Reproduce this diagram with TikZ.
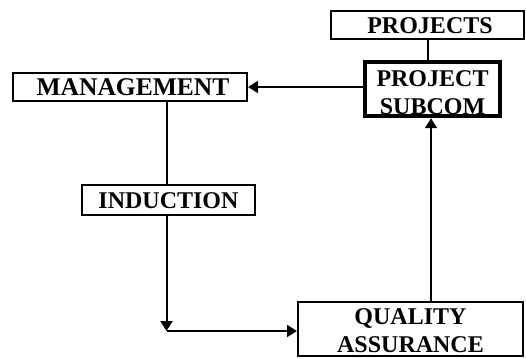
\documentclass[tikz,border=0pt]{standalone}
\usepackage{fontspec}
\setmainfont{Liberation Serif}
\usetikzlibrary{arrows.meta}
\begin{document}
\begin{tikzpicture}[x=1pt,y=-1pt,
  lbl/.style={font=\fontsize{24}{28}\selectfont\bfseries, align=center, inner sep=0pt},
  biglbl/.style={lbl, font=\fontsize{25.5}{28}\selectfont\bfseries},
  box/.style={draw, line width=2pt, inner sep=0pt},
  heavybox/.style={draw, line width=4.5pt, inner sep=0pt},
  link/.style={line width=2pt},
  arrowlink/.style={line width=2pt, -{Triangle[length=10pt,width=12pt]}}]
\useasboundingbox (0,0) rectangle (526,358);

% boxes with their texts (text first where the frame overlaps it)
\node[box, minimum width=193pt, minimum height=28pt] (projects) at (427.5,25) {};
\node[lbl] at (430,25.5) {PROJECTS};

\node[lbl] (subcomtext) at (432.5,92.5) {PROJECT\\SUBCOM};
\node[heavybox, minimum width=135pt, minimum height=54pt] (subcom) at (432.5,89) {};

\node[box, minimum width=234pt, minimum height=28pt] (mgmt) at (130,87) {};
\node[biglbl] at (133,87.5) {MANAGEMENT};

\node[box, minimum width=173pt, minimum height=30pt] (induction) at (168.5,200) {};
\node[lbl] at (168.5,200.5) {INDUCTION};

\node[lbl] (qatext) at (410.5,330.5) {QUALITY\\ASSURANCE};
\node[box, minimum width=225pt, minimum height=54pt] (qa) at (410.5,329) {};

% routing points
\coordinate (drop) at (428,0);
\coordinate (bend) at (166.5,331);
\coordinate (riser) at (431,0);

% connectors
\draw[link] (projects.south -| drop) -- (subcom.north -| drop);
\draw[arrowlink] (subcom.west |- mgmt.east) -- (mgmt.east);
\draw[link] (mgmt.south -| bend) -- (induction.north -| bend);
\draw[arrowlink] (induction.south -| bend) -- (bend);
\draw[arrowlink] (bend) -- (bend -| qa.west);
\draw[arrowlink] (qa.north -| riser) -- (subcom.south -| riser);
\end{tikzpicture}
\end{document}
